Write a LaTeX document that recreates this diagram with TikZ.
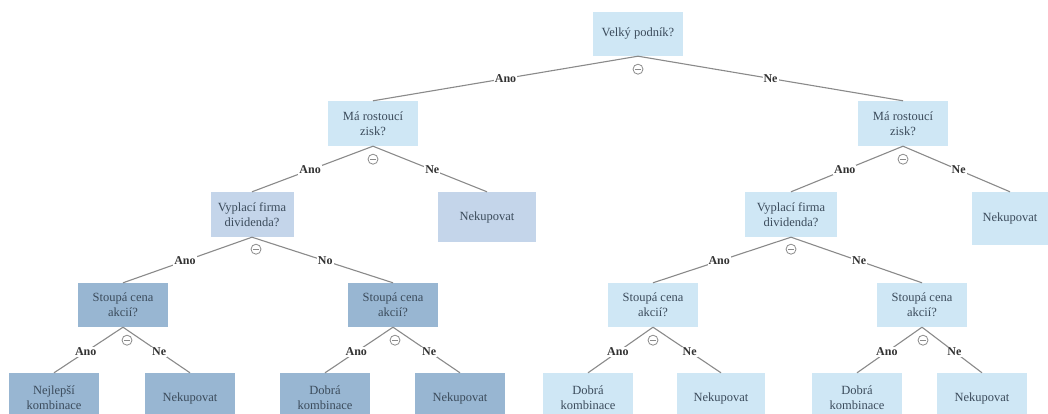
\documentclass[tikz,border=0pt]{standalone}
\usepackage{fontspec}
\setmainfont{Liberation Serif}
\usetikzlibrary{calc}
\definecolor{boxlight}{HTML}{CFE7F5}
\definecolor{boxmid}{HTML}{C4D5EA}
\definecolor{boxdark}{HTML}{98B6D2}
\definecolor{txt}{HTML}{3B4B5B}
\definecolor{edgecol}{HTML}{8A8A8A}
\tikzset{
  box/.style={rectangle, draw=none, align=center, text=txt, inner sep=2pt,
    font=\fontsize{12.5}{14.8}\selectfont, minimum height=44pt},
  light/.style={box, fill=boxlight},
  mid/.style={box, fill=boxmid},
  dark/.style={box, fill=boxdark},
  edge/.style={draw=edgecol, line width=1.1pt},
  lab/.style={fill=white, inner sep=1pt, text=black!80, font=\fontsize{12}{14}\selectfont\bfseries},
  minuscirc/.style={circle, draw=edgecol, line width=0.8pt, inner sep=0pt, minimum size=10pt,
    path picture={\draw[edgecol, line width=0.9pt]
      ([xshift=-2.6pt]path picture bounding box.center) -- ([xshift=2.6pt]path picture bounding box.center);}}
}
\begin{document}
\begin{tikzpicture}[x=1pt,y=-1pt]
\useasboundingbox[fill=white] (0,0) rectangle (1048,414);
% level 0
\node[light, minimum width=90pt] (root) at (638,34) {Velký podník?};
% level 1
\node[light, minimum width=90pt, minimum height=45pt] (m1) at (373,123.5) {Má rostoucí\\zisk?};
\node[light, minimum width=90pt, minimum height=45pt] (m2) at (903,123.5) {Má rostoucí\\zisk?};
% level 2
\node[mid, minimum width=83pt, minimum height=45pt] (v1) at (252,214.5) {Vyplací firma\\dividenda?};
\node[mid, minimum width=98pt, minimum height=50pt] (n1) at (487,217) {Nekupovat};
\node[light, minimum width=92pt, minimum height=45pt] (v2) at (791,214.5) {Vyplací firma\\dividenda?};
\node[light, minimum width=76pt, minimum height=53pt] (n2) at (1010,218.5) {Nekupovat};
% level 3
\node[dark, minimum width=90pt] (s1) at (123,305) {Stoupá cena\\akcií?};
\node[dark, minimum width=90pt] (s2) at (393,305) {Stoupá cena\\akcií?};
\node[light, minimum width=90pt] (s3) at (653,305) {Stoupá cena\\akcií?};
\node[light, minimum width=90pt] (s4) at (922,305) {Stoupá cena\\akcií?};
% level 4
\node[dark, minimum width=90pt, minimum height=50pt] (l1) at (54,398) {Nejlepší\\kombinace};
\node[dark, minimum width=90pt, minimum height=50pt] (l2) at (190,398) {Nekupovat};
\node[dark, minimum width=90pt, minimum height=50pt] (l3) at (325,398) {Dobrá\\kombinace};
\node[dark, minimum width=90pt, minimum height=50pt] (l4) at (460,398) {Nekupovat};
\node[light, minimum width=90pt, minimum height=50pt] (l5) at (588,398) {Dobrá\\kombinace};
\node[light, minimum width=88pt, minimum height=50pt] (l6) at (721,398) {Nekupovat};
\node[light, minimum width=90pt, minimum height=50pt] (l7) at (857,398) {Dobrá\\kombinace};
\node[light, minimum width=90pt, minimum height=50pt] (l8) at (982,398) {Nekupovat};
% edges
\draw[edge] (root.south) -- node[lab, pos=0.5] {Ano} (m1.north);
\draw[edge] (root.south) -- node[lab, pos=0.5] {Ne} (m2.north);
\draw[edge] (m1.south) -- node[lab, pos=0.52] {Ano} (v1.north);
\draw[edge] (m1.south) -- node[lab, pos=0.52] {Ne} (n1.north);
\draw[edge] (m2.south) -- node[lab, pos=0.52] {Ano} (v2.north);
\draw[edge] (m2.south) -- node[lab, pos=0.52] {Ne} (n2.north);
\draw[edge] (v1.south) -- node[lab, pos=0.52] {Ano} (s1.north);
\draw[edge] (v1.south) -- node[lab, pos=0.52] {No} (s2.north);
\draw[edge] (v2.south) -- node[lab, pos=0.52] {Ano} (s3.north);
\draw[edge] (v2.south) -- node[lab, pos=0.52] {Ne} (s4.north);
\draw[edge] (s1.south) -- node[lab, pos=0.54] {Ano} (l1.north);
\draw[edge] (s1.south) -- node[lab, pos=0.54] {Ne} (l2.north);
\draw[edge] (s2.south) -- node[lab, pos=0.54] {Ano} (l3.north);
\draw[edge] (s2.south) -- node[lab, pos=0.54] {Ne} (l4.north);
\draw[edge] (s3.south) -- node[lab, pos=0.54] {Ano} (l5.north);
\draw[edge] (s3.south) -- node[lab, pos=0.54] {Ne} (l6.north);
\draw[edge] (s4.south) -- node[lab, pos=0.54] {Ano} (l7.north);
\draw[edge] (s4.south) -- node[lab, pos=0.54] {Ne} (l8.north);
% minus circles
\node[minuscirc] (c0) at ($(root.south)+(0,13)$) {};
\node[minuscirc] (c1) at ($(m1.south)+(0,13)$) {};
\node[minuscirc] (c2) at ($(m2.south)+(0,13)$) {};
\node[minuscirc] (c3) at ($(v1.south)+(4,12)$) {};
\node[minuscirc] (c4) at ($(v2.south)+(0,12)$) {};
\node[minuscirc] (c5) at ($(s1.south)+(4,13)$) {};
\node[minuscirc] (c6) at ($(s2.south)+(2,13)$) {};
\node[minuscirc] (c7) at ($(s3.south)+(0,13)$) {};
\node[minuscirc] (c8) at ($(s4.south)+(1,13)$) {};
\end{tikzpicture}
\end{document}
